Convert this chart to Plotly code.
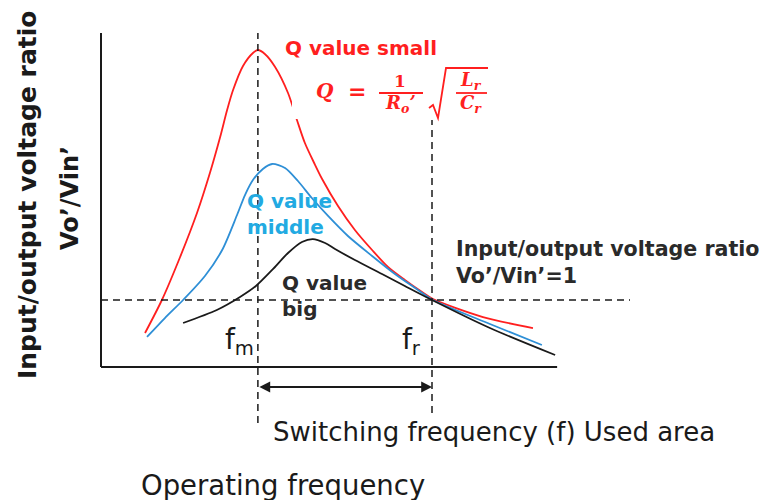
import plotly.graph_objects as go

W, H = 771, 500

# ---------------- data (normalized frequency f/fr, gain Vo'/Vin') ----------------
f_small = [0.133, 0.184, 0.239, 0.290, 0.329, 0.360, 0.381, 0.399, 0.429, 0.459, 0.474, 0.495,
           0.526, 0.565, 0.592, 0.616, 0.644, 0.668, 0.716, 0.767, 0.819, 0.867, 0.918, 0.970,
           1.003, 1.154, 1.305]
g_small = [0.507, 1.000, 1.642, 2.299, 2.896, 3.433, 3.836, 4.134, 4.493, 4.687, 4.731, 4.672,
           4.478, 4.090, 3.687, 3.343, 3.045, 2.806, 2.403, 2.045, 1.746, 1.493, 1.299, 1.119,
           1.015, 0.746, 0.582]

f_middle = [0.139, 0.193, 0.248, 0.314, 0.366, 0.411, 0.435, 0.459, 0.489, 0.517, 0.556, 0.595,
            0.637, 0.686, 0.746, 0.819, 0.888, 0.949, 1.003, 1.175, 1.332]
g_middle = [0.448, 0.731, 1.000, 1.358, 1.746, 2.269, 2.567, 2.791, 2.955, 3.030, 2.970, 2.776,
            2.522, 2.254, 1.955, 1.657, 1.388, 1.179, 1.000, 0.642, 0.328]

f_big = [0.248, 0.350, 0.420, 0.468, 0.517, 0.565, 0.607, 0.640, 0.677, 0.707, 0.767, 0.849,
         0.918, 1.000, 1.175, 1.372]
g_big = [0.657, 0.851, 1.045, 1.209, 1.448, 1.701, 1.866, 1.910, 1.851, 1.761, 1.597, 1.388,
         1.209, 1.000, 0.582, 0.179]

F_M = 0.474        # fm / fr
F_R = 1.0          # fr / fr
G_UNITY = 1.0      # Vo'/Vin' = 1
F_AXIS_END = 1.378
G_AXIS_END = 4.985

# ---------------- canvas mapping (whole canvas is the plot area) ----------------
X0_PX, PX_PER_F = 101, 331
Y0_PX, PX_PER_G = 367, 67
x_range = [(0 - X0_PX) / PX_PER_F, (W - X0_PX) / PX_PER_F]
y_range = [(Y0_PX - H) / PX_PER_G, Y0_PX / PX_PER_G]


def fx(px):
    return (px - X0_PX) / PX_PER_F


def gy(py):
    return (Y0_PX - py) / PX_PER_G


RED = "#FF1F1F"
BLUE_LINE = "#2E8FD6"
BLUE_TEXT = "#22AAE2"
BLACK = "#1A1A1A"
SANS = "DejaVu Sans"
SERIF = "DejaVu Serif"

fig = go.Figure()
fig.add_trace(go.Scatter(x=f_small, y=g_small, mode="lines",
                         line=dict(color=RED, width=1.8, shape="spline", smoothing=0.8)))
fig.add_trace(go.Scatter(x=f_middle, y=g_middle, mode="lines",
                         line=dict(color=BLUE_LINE, width=1.8, shape="spline", smoothing=0.8)))
fig.add_trace(go.Scatter(x=f_big, y=g_big, mode="lines",
                         line=dict(color=BLACK, width=1.8, shape="spline", smoothing=0.8)))

shapes = []
# axes
shapes.append(dict(type="line", x0=0, x1=0, y0=0, y1=G_AXIS_END, line=dict(color=BLACK, width=2)))
shapes.append(dict(type="line", x0=0, x1=F_AXIS_END, y0=0, y1=0, line=dict(color=BLACK, width=2)))
# dashed guides
dash = "7px,5px"
shapes.append(dict(type="line", x0=F_M, x1=F_M, y0=gy(423), y1=G_AXIS_END,
                   line=dict(color=BLACK, width=1.5, dash=dash)))
shapes.append(dict(type="line", x0=F_R, x1=F_R, y0=gy(413), y1=gy(120),
                   line=dict(color=BLACK, width=1.5, dash=dash)))
shapes.append(dict(type="line", x0=0, x1=fx(630), y0=G_UNITY, y1=G_UNITY,
                   line=dict(color=BLACK, width=1.5, dash=dash)))
# white box behind formula
shapes.append(dict(type="rect", x0=fx(292), x1=fx(490), y0=gy(119), y1=gy(62),
                   fillcolor="white", line=dict(width=0), layer="above"))

# sqrt sign path
pts = [(429, 108), (433, 105), (438, 118), (446, 68), (488, 68)]
path = "M " + " L ".join(f"{fx(a):.5f},{gy(b):.5f}" for a, b in pts)
shapes.append(dict(type="path", path=path, line=dict(color=RED, width=1.8), layer="above"))
# fraction bars
shapes.append(dict(type="line", x0=fx(379), x1=fx(423), y0=gy(93), y1=gy(93),
                   line=dict(color=RED, width=1.8), layer="above"))
shapes.append(dict(type="line", x0=fx(456), x1=fx(487), y0=gy(93), y1=gy(93),
                   line=dict(color=RED, width=1.8), layer="above"))

ann = []


def text(px, py, s, size, color=BLACK, xanchor="left", yanchor="middle", family=SANS, angle=0):
    ann.append(dict(x=fx(px), y=gy(py), text=s, showarrow=False, xanchor=xanchor,
                    yanchor=yanchor, align="left", textangle=angle,
                    font=dict(family=family, size=size, color=color)))


text(283, 48, "<b>Q value small</b>", 20, RED)
text(245, 214, "<b>Q value<br>middle</b>", 20, BLUE_TEXT)
text(280, 296, "<b>Q value<br>big</b>", 20, "#2A2A2A")
text(454, 262, "<b>Input/output voltage ratio<br>Vo’/Vin’=1</b>", 20.6, "#2A2A2A")

# formula
text(325, 91, "<b><i>Q</i></b>", 20, RED, xanchor="center", family=SERIF)
text(357, 91, "<b>=</b>", 22, RED, xanchor="center", family=SERIF)
text(400, 81, "<b>1</b>", 17, RED, xanchor="center", family=SERIF)
text(400, 104, "<b><i>R<sub>o</sub>’</i></b>", 18, RED, xanchor="center", family=SERIF)
text(471, 81, "<b><i>L<sub>r</sub></i></b>", 18, RED, xanchor="center", family=SERIF)
text(471, 104, "<b><i>C<sub>r</sub></i></b>", 18, RED, xanchor="center", family=SERIF)

# frequency marks
text(256, 362, "f<sub>m</sub>", 28, BLACK, xanchor="right", yanchor="bottom")
text(423, 362, "f<sub>r</sub>", 28, BLACK, xanchor="right", yanchor="bottom")

text(271, 432, "Switching frequency (f) Used area", 26, "#1A1A1A")
text(139, 485, "Operating frequency", 27.5, "#1A1A1A")

# y-axis titles
text(27, 195, "<b>Input/output voltage ratio</b>", 25, BLACK, xanchor="center", angle=-90)
text(70, 198, "<b>Vo’/Vin’</b>", 24, BLACK, xanchor="center", angle=-90)

# double arrow for used range
ann.append(dict(x=F_R, y=gy(387), ax=F_M, ay=gy(387), axref="x", ayref="y", xref="x", yref="y",
                text="", showarrow=True, arrowhead=2, arrowside="end+start", arrowsize=1.2,
                arrowwidth=1.8, arrowcolor=BLACK, standoff=0, startstandoff=0))

fig.update_layout(
    width=W, height=H, margin=dict(l=0, r=0, t=0, b=0),
    paper_bgcolor="white", plot_bgcolor="white", showlegend=False,
    xaxis=dict(range=x_range, visible=False, fixedrange=True),
    yaxis=dict(range=y_range, visible=False, fixedrange=True),
    shapes=shapes, annotations=ann,
)

fig.write_html("out.html", config={"displayModeBar": False},
               post_script="document.body.style.margin='0';document.body.style.overflow='hidden';")
